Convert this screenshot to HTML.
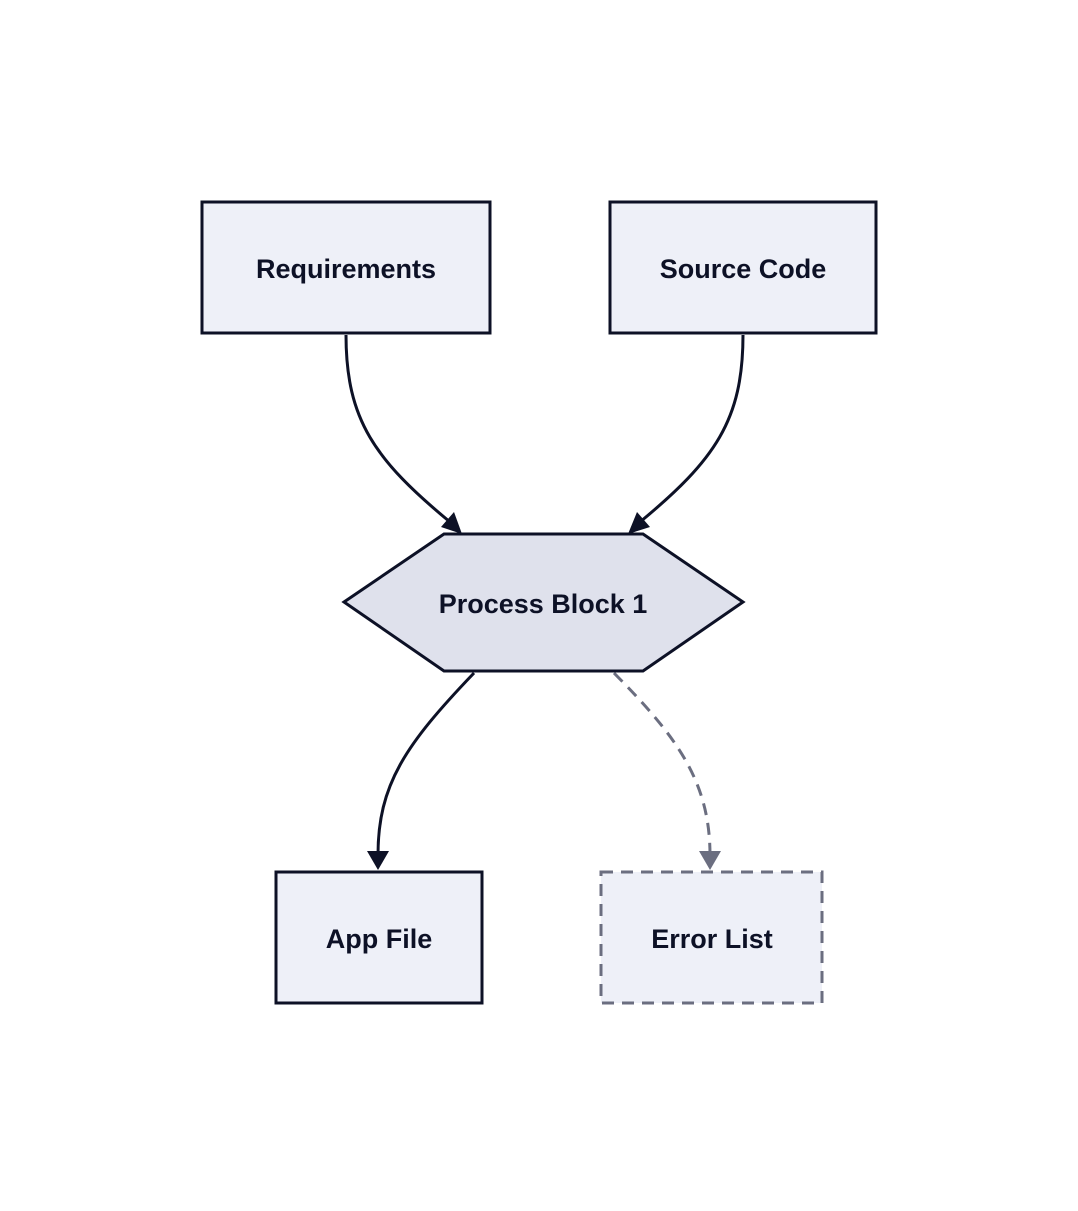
<!DOCTYPE html>
<html><head><style>
html,body{margin:0;padding:0;background:#fff;}
svg text{font-family:"Liberation Sans",sans-serif;font-weight:bold;font-size:27px;fill:#0d1126;}
</style></head><body>
<svg width="1078" height="1206" viewBox="0 0 1078 1206" xmlns="http://www.w3.org/2000/svg">
<defs>
<marker id="a" viewBox="0 0 10 10" refX="9" refY="5" markerWidth="7" markerHeight="7" markerUnits="userSpaceOnUse" orient="auto"></marker>
</defs>
<g fill="none" stroke="#0d1126" stroke-width="3">
<path d="M346,335 C346,420 375,460 450,522"/>
<path d="M743,335 C743,420 715,460 640,522"/>
<path d="M474,673 C405,745 378,785 378,855"/>
</g>
<path d="M614,673 C675,735 710,780 710,855" fill="none" stroke="#6b6e80" stroke-width="3" stroke-dasharray="12,8"/>
<g fill="#0d1126">
<polygon points="462,534 441,527 454,512"/>
<polygon points="628,534 637,512 650,527"/>
<polygon points="378,870 367,851 389,851"/>
</g>
<polygon points="710,870 699,851 721,851" fill="#6b6e80"/>
<g stroke="#0d1126" stroke-width="3" fill="#eef0f8">
<rect x="202" y="202" width="288" height="131"/>
<rect x="610" y="202" width="266" height="131"/>
<rect x="276" y="872" width="206" height="131"/>
<polygon points="344,602 444,534 643,534 743,602 643,671 444,671" fill="#dfe1ec"/>
</g>
<rect x="601" y="872" width="221" height="131" fill="#eef0f8" stroke="#6b6e80" stroke-width="3" stroke-dasharray="12,8"/>
<g text-anchor="middle">
<text x="346" y="278">Requirements</text>
<text x="743" y="278">Source Code</text>
<text x="543" y="613">Process Block 1</text>
<text x="379" y="948">App File</text>
<text x="712" y="948">Error List</text>
</g>
</svg>
</body></html>
